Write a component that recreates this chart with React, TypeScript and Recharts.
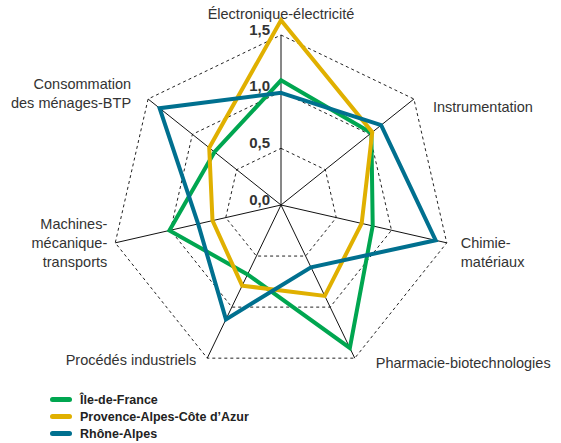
import React from 'react';
import { RadarChart, Radar, PolarGrid, PolarAngleAxis, PolarRadiusAxis, Legend } from 'recharts';

const sectors = [
  'Électronique-électricité',
  'Instrumentation',
  'Chimie-\nmatériaux',
  'Pharmacie-biotechnologies',
  'Procédés industriels',
  'Machines-\nmécanique-\ntransports',
  'Consommation\ndes ménages-BTP',
];
const ileDeFrance = [1.1, 1.02, 0.83, 1.4, 0.68, 1.01, 0.75];
const paca = [1.63, 1.03, 0.73, 0.89, 0.79, 0.62, 0.81];
const rhoneAlpes = [0.99, 1.13, 1.4, 0.61, 1.12, 0.75, 1.37];
const radiusTicks = [0, 0.5, 1, 1.5];

const series = [
  { key: 'idf', name: 'Île-de-France', color: '#00a650' },
  { key: 'paca', name: 'Provence-Alpes-Côte d’Azur', color: '#e0b000' },
  { key: 'ra', name: 'Rhône-Alpes', color: '#00708f' },
];

const data = sectors.map((s, i) => ({
  sector: s,
  idf: ileDeFrance[i],
  paca: paca[i],
  ra: rhoneAlpes[i],
}));

const W = 561;
const H = 443;
const CX = 281;
const CY = 205;
const R = 170; // radius of the 1,5 ring
const MAX = 1.5;
// the series chart runs its scale to 2 so the PACA peak can go past the outer ring
const SCALE_MAX = 2;
const OUTER = (R * SCALE_MAX) / MAX;

// label nudges from the axis end, [dx, dy]
const nudge: Record<number, [number, number]> = {
  0: [0, -21],
  1: [19, 8],
  2: [14, 10],
  3: [21, 5],
  4: [-11, 2],
  5: [-8, 0],
  6: [-17, -6],
};

const labelFont = "'Liberation Sans', Arial, sans-serif";

function AngleTick(props: any) {
  const { payload, index } = props;
  const a = (payload.coordinate * Math.PI) / 180;
  const cos = Math.cos(a);
  const vx = CX + R * cos;
  const vy = CY - R * Math.sin(a);
  const anchor = Math.abs(cos) < 0.1 ? 'middle' : cos > 0 ? 'start' : 'end';
  const [dx, dy] = nudge[index] || [0, 0];
  const lines = String(payload.value).split('\n');
  const lh = 19;
  return (
    <text
      x={vx + dx}
      y={vy + dy}
      textAnchor={anchor}
      fill="#333"
      fontSize={14.5}
      fontFamily={labelFont}
    >
      {lines.map((l, i) => (
        <tspan key={i} x={vx + dx} y={vy + dy + (i - (lines.length - 1) / 2) * lh} dominantBaseline="central">
          {l}
        </tspan>
      ))}
    </text>
  );
}

function RadiusTick(props: any) {
  const { x, y, payload } = props;
  return (
    <text
      x={x - 11}
      y={y - 6}
      textAnchor="end"
      dominantBaseline="central"
      fill="#333"
      fontSize={15}
      fontWeight="bold"
      fontFamily="'Liberation Sans Narrow', 'Liberation Sans', Arial, sans-serif"
    >
      {Number(payload.value).toFixed(1).replace('.', ',')}
    </text>
  );
}

function LegendBox() {
  return (
    <div style={{ fontFamily: labelFont }}>
      {series.map((s) => (
        <div key={s.key} style={{ display: 'flex', alignItems: 'center', height: 17 }}>
          <span
            style={{
              display: 'inline-block',
              width: 22,
              height: 5,
              borderRadius: 3,
              background: s.color,
              marginRight: 8,
            }}
          />
          <span style={{ fontSize: 12.5, fontWeight: 'bold', color: '#222' }}>{s.name}</span>
        </div>
      ))}
    </div>
  );
}

const layer: React.CSSProperties = { position: 'absolute', left: 0, top: 0 };

export default function App() {
  return (
    <div style={{ position: 'absolute', left: 0, top: 0, width: W, height: H, background: '#fff' }}>
      {/* grid and sector labels */}
      <div style={layer}>
        <RadarChart width={W} height={H} data={data} cx={CX} cy={CY} outerRadius={R} startAngle={90} endAngle={-270}>
          <PolarGrid
            gridType="polygon"
            radialLines={false}
            polarRadius={radiusTicks.filter((t) => t > 0).map((t) => (t / MAX) * R)}
            stroke="#222"
            strokeDasharray="3 3"
          />
          <PolarGrid gridType="polygon" radialLines polarRadius={[0]} stroke="#111" strokeWidth={1} />
          <PolarAngleAxis dataKey="sector" tick={AngleTick} axisLine={false} tickLine={false} />
        </RadarChart>
      </div>
      {/* series and value ticks */}
      <div style={layer}>
        <RadarChart width={W} height={H} data={data} cx={CX} cy={CY} outerRadius={OUTER} startAngle={90} endAngle={-270}>
          <PolarAngleAxis dataKey="sector" tick={false} axisLine={false} tickLine={false} />
          <PolarRadiusAxis
            type="number"
            angle={90}
            domain={[0, SCALE_MAX]}
            ticks={radiusTicks as any}
            tick={RadiusTick}
            axisLine={false}
            tickLine={false}
          />
          {series.map((s) => (
            <Radar
              key={s.key}
              dataKey={s.key}
              name={s.name}
              stroke={s.color}
              strokeWidth={4}
              fill="none"
              fillOpacity={0}
              dot={false}
              isAnimationActive={false}
            />
          ))}
          <Legend
            layout="vertical"
            content={<LegendBox />}
            wrapperStyle={{ position: 'absolute', left: 50, top: 391, width: 300 }}
          />
        </RadarChart>
      </div>
    </div>
  );
}
